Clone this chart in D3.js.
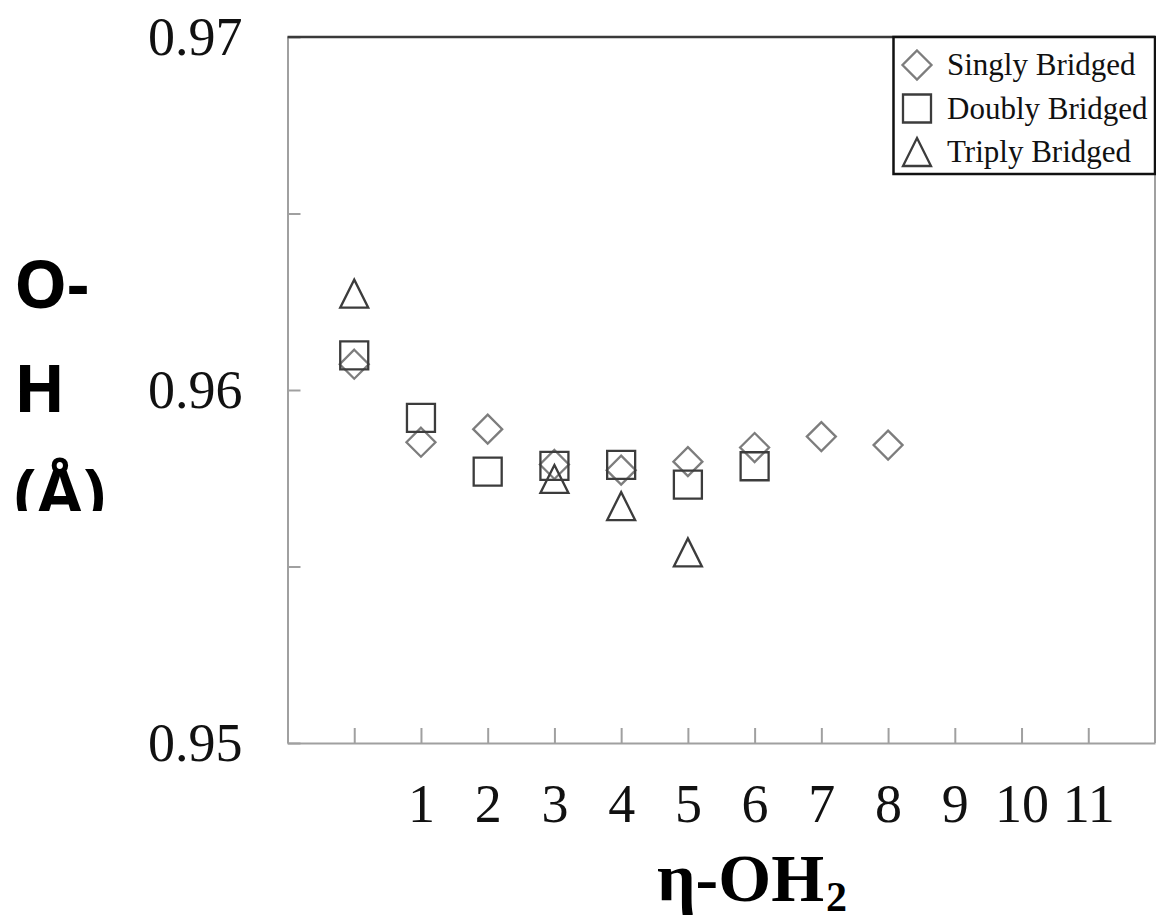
<!DOCTYPE html>
<html>
<head>
<meta charset="utf-8">
<script src="https://cdn.jsdelivr.net/npm/d3@7"></script>
<style>
  body { margin: 0; background: #fff; }
  svg { display: block; }
</style>
</head>
<body>
<svg id="chart" width="1156" height="922"></svg>
<script>
// values
const xTicks = [0, 1, 2, 3, 4, 5, 6, 7, 8, 9, 10, 11]
const yTicks = [0.95, 0.955, 0.96, 0.965, 0.97]
const yLabels = [0.95, 0.96, 0.97]

const singlyX = [0, 1, 2, 3, 4, 5, 6, 7, 8]
const singlyY = [0.96073, 0.95852, 0.95889, 0.95789, 0.95773, 0.95797, 0.95837, 0.95868, 0.95844]
const doublyX = [0, 1, 2, 3, 4, 5, 6]
const doublyY = [0.96098, 0.95921, 0.95769, 0.95785, 0.95788, 0.95732, 0.95784]
const triplyX = [0, 3, 4, 5]
const triplyY = [0.96273, 0.95748, 0.95671, 0.95540]

const seriesNames = ["Singly Bridged", "Doubly Bridged", "Triply Bridged"]

const svg = d3.select("#chart")
const plotL = 287.5, plotR = 1155, plotT = 37, plotB = 743

const x = d3.scaleLinear().domain([-1, 12]).range([plotL, plotR])
const y = d3.scaleLinear().domain([0.95, 0.97]).range([plotB, plotT])

// custom marker shapes (bbox centred on the point)
const diamond = {
  draw(ctx, size) {
    const r = Math.sqrt(size) / 2
    ctx.moveTo(0, -r); ctx.lineTo(r, 0); ctx.lineTo(0, r); ctx.lineTo(-r, 0); ctx.closePath()
  }
}
const triangle = {
  draw(ctx, size) {
    const r = Math.sqrt(size) / 2
    ctx.moveTo(0, -r); ctx.lineTo(r, r); ctx.lineTo(-r, r); ctx.closePath()
  }
}
const markers = [
  { shape: diamond, size: 29 * 29, color: "#7d7d7d" },
  { shape: d3.symbolSquare, size: 28 * 28, color: "#3c3c3c" },
  { shape: triangle, size: 28 * 28, color: "#3c3c3c" }
]

// axes
const xAxis = d3.axisBottom(x)
  .tickValues(xTicks)
  .tickSizeInner(-15)
  .tickSizeOuter(0)
  .tickPadding(41)
  .tickFormat(d => d === 0 ? "" : d)

const yAxis = d3.axisLeft(y)
  .tickValues(yTicks)
  .tickSizeInner(-13)
  .tickSizeOuter(0)
  .tickPadding(45)
  .tickFormat(d => yLabels.includes(d) ? d3.format(".2f")(d) : "")

svg.append("g")
  .attr("transform", `translate(0,${plotB})`)
  .call(xAxis)
svg.append("g")
  .attr("transform", `translate(${plotL},0)`)
  .call(yAxis)

svg.selectAll(".domain, .tick line")
  .attr("stroke", "#a0a0a0")
  .attr("stroke-width", 2)
svg.selectAll(".tick text")
  .attr("font-family", "'Liberation Serif', serif")
  .attr("font-size", 54)
  .attr("fill", "#111")

// frame: top border dark, right border grey
svg.append("line")
  .attr("x1", plotL).attr("x2", plotR)
  .attr("y1", plotT).attr("y2", plotT)
  .attr("stroke", "#3a3a3a").attr("stroke-width", 2.5)
svg.append("line")
  .attr("x1", plotR).attr("x2", plotR)
  .attr("y1", plotT).attr("y2", plotB)
  .attr("stroke", "#a0a0a0").attr("stroke-width", 2)

// points
const series = [
  d3.zip(singlyX, singlyY),
  d3.zip(doublyX, doublyY),
  d3.zip(triplyX, triplyY)
]
series.forEach(function(pts, i) {
  const m = markers[i]
  svg.append("g")
    .selectAll("path")
    .data(pts)
    .join("path")
      .attr("d", d3.symbol().type(m.shape).size(m.size))
      .attr("transform", d => `translate(${x(d[0])},${y(d[1])})`)
      .attr("fill", "none")
      .attr("stroke", m.color)
      .attr("stroke-width", 2.3)
})

// legend
const legend = svg.append("g")
legend.append("rect")
  .attr("x", 893.5).attr("y", plotT)
  .attr("width", plotR - 893.5).attr("height", 137)
  .attr("fill", "#fff")
  .attr("stroke", "#111").attr("stroke-width", 2.5)

const lg = legend.selectAll("g.item")
  .data(seriesNames)
  .join("g")
    .attr("class", "item")
    .attr("transform", (d, i) => `translate(917,${65 + i * 43.5})`)
lg.append("path")
  .attr("d", (d, i) => d3.symbol().type(markers[i].shape).size(markers[i].size)())
  .attr("fill", "none")
  .attr("stroke", (d, i) => markers[i].color)
  .attr("stroke-width", 2.3)
lg.append("text")
  .attr("x", 30)
  .attr("y", 10)
  .attr("font-family", "'Liberation Serif', serif")
  .attr("font-size", 31)
  .attr("fill", "#111")
  .text(d => d)

// y axis title, wrapped and clipped like the original
svg.append("clipPath").attr("id", "ylabclip")
  .append("rect").attr("x", 0).attr("y", 0).attr("width", 140).attr("height", 511)
const ylab = svg.append("text")
  .attr("clip-path", "url(#ylabclip)")
  .attr("font-family", "'Open Sans', 'Noto Sans', sans-serif")
  .attr("font-weight", "bold")
  .attr("font-size", 67)
  .attr("fill", "#000")
;["O-", "H", "(Å)"].forEach(function(t, i) {
  ylab.append("tspan").attr("x", 14).attr("y", 308 + i * 104).text(t)
})

// x axis title
const xt = svg.append("text")
  .attr("x", 657)
  .attr("y", 901)
  .attr("font-family", "'Liberation Serif', serif")
  .attr("font-weight", "bold")
  .attr("font-size", 68)
  .attr("fill", "#000")
xt.append("tspan").text("η-OH")
xt.append("tspan").attr("font-size", 42).attr("dy", 10).attr("dx", 2).text("2")
</script>
</body>
</html>
